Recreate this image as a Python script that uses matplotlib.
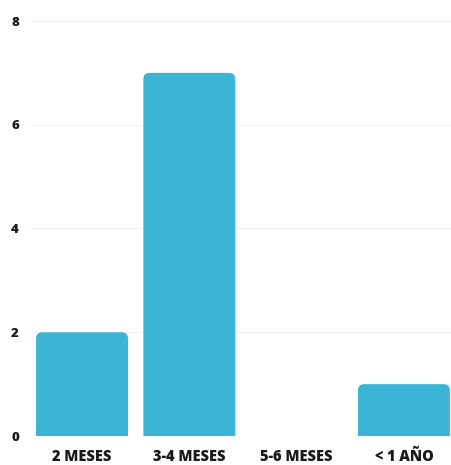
import matplotlib
matplotlib.use("Agg")
import matplotlib.pyplot as plt
from matplotlib.patches import FancyBboxPatch

categorias = ["2 MESES", "3-4 MESES", "5-6 MESES", "< 1 AÑO"]
valores = [2, 7, 0, 1]
yticks = [0, 2, 4, 6, 8]

color = "#3cb4d6"

fig = plt.figure(figsize=(4.51, 4.65), dpi=100)
ax = fig.add_axes([30 / 451, 29 / 465, 421 / 451, 415 / 465])

x = list(range(len(categorias)))
bars = ax.bar(x, valores, width=0.857, color=color)

# redraw each bar with rounded top corners (bottom hidden below y=0)
for b in bars:
    b.set_visible(False)
    h = b.get_height()
    if h <= 0:
        continue
    p = FancyBboxPatch((b.get_x(), -0.3), b.get_width(), h + 0.3,
                       boxstyle="round,pad=0,rounding_size=0.06",
                       mutation_aspect=2.0, facecolor=color,
                       edgecolor="none", clip_on=True)
    ax.add_patch(p)

ax.set_xlim(-0.485, 3.439)
ax.set_ylim(0, 8)
ax.set_yticks(yticks)
ax.set_xticks(x)
ax.set_xticklabels(categorias)
ax.grid(axis="y", color="#f2f2f2", linewidth=0.8)
ax.set_axisbelow(True)
for s in ax.spines.values():
    s.set_visible(False)
ax.tick_params(length=0)
ax.tick_params(axis="y", pad=8)
ax.tick_params(axis="x", pad=9)
for lab in ax.get_xticklabels():
    lab.set_fontfamily("Open Sans")
    lab.set_fontweight("heavy")
    lab.set_fontsize(10.5)
    lab.set_color("#1a1a1a")
for lab in ax.get_yticklabels():
    lab.set_fontfamily("Open Sans")
    lab.set_fontweight("heavy")
    lab.set_fontsize(9.5)
    lab.set_color("#1a1a1a")

fig.savefig("out.png", dpi=100)
